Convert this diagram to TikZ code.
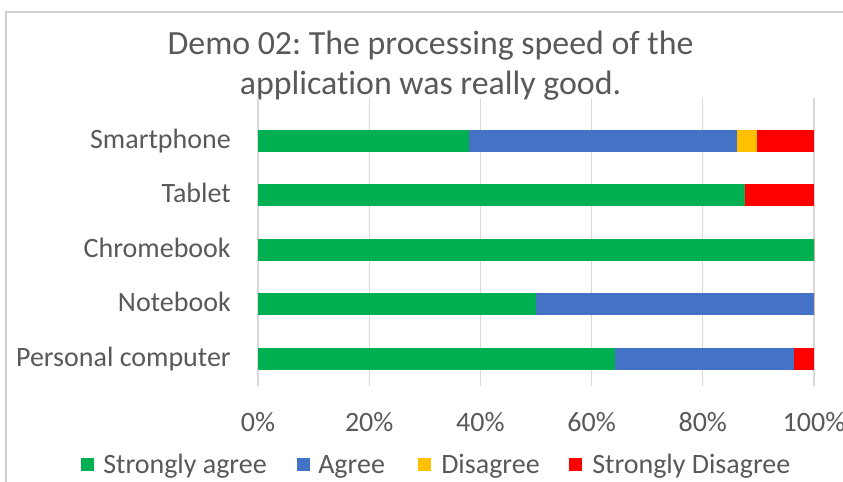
\documentclass[tikz,border=0pt]{standalone}
\usepackage{fontspec}
\setmainfont[Ligatures=NoCommon]{Carlito}
\frenchspacing
\definecolor{sagree}{HTML}{00B050}
\definecolor{agree}{HTML}{4472C4}
\definecolor{disagree}{HTML}{FFC000}
\definecolor{sdisagree}{HTML}{FF0000}
\definecolor{txtgray}{HTML}{595959}
\definecolor{gridgray}{HTML}{D9D9D9}
\definecolor{framegray}{HTML}{D0D0D0}

\tikzset{
  lab/.style={inner sep=0pt, text=txtgray, font=\fontsize{21}{25}\selectfont},
  titletext/.style={inner sep=0pt, text=txtgray, font=\fontsize{25.4}{30}\selectfont},
  gridline/.style={draw=gridgray, line width=1pt},
  legbox/.style={inner sep=0pt, minimum width=9.75pt, minimum height=9.75pt},
}

% one stacked bar: centre y, cumulative percentages of the four segments
\newcommand{\stackbar}[5]{%
  \fill[sagree]    (258,#1-11) rectangle ({258+5.56*#2},#1+11);
  \fill[agree]     ({258+5.56*#2},#1-11) rectangle ({258+5.56*#3},#1+11);
  \fill[disagree]  ({258+5.56*#3},#1-11) rectangle ({258+5.56*#4},#1+11);
  \fill[sdisagree] ({258+5.56*#4},#1-11) rectangle ({258+5.56*#5},#1+11);
}

\begin{document}
\begin{tikzpicture}[x=0.75pt,y=-0.75pt]
\useasboundingbox (0,0) rectangle (843,482);
\fill[white] (0,0) rectangle (843,482);

% chart frame (left and top edges)
\draw[framegray, line width=1.2pt] (6,482) -- (6,12) -- (843,12);

% title
\node[titletext, anchor=base] (title1) at (430.5,54) {Demo 02: The processing speed of the};
\node[titletext, anchor=base] (title2) at (430.5,94) {application was really good.};

% vertical gridlines and axis labels
\foreach \p/\nm in {0/t0,20/t20,40/t40,60/t60,80/t80,100/t100}{
  \draw[gridline] ({258+5.56*\p},98) -- ({258+5.56*\p},386);
  \node[lab, anchor=base] (\nm) at ({258+5.56*\p},431.7) {\p\%};
}

% bars
\stackbar{140.5}{37.93}{86.21}{89.66}{100}
\stackbar{195.1}{87.5}{87.5}{87.5}{100}
\stackbar{249.7}{100}{100}{100}{100}
\stackbar{304.3}{50}{100}{100}{100}
\stackbar{358.9}{64.29}{96.43}{96.43}{100}

% category labels
\node[lab, anchor=base east] (c1) at (231,148.0) {Smartphone};
\node[lab, anchor=base east] (c2) at (231,202.6) {Tablet};
\node[lab, anchor=base east] (c3) at (231,257.2) {Chromebook};
\node[lab, anchor=base east] (c4) at (231,311.8) {Notebook};
\node[lab, anchor=base east] (c5) at (231,366.4) {Personal computer};

% legend
\node[legbox, fill=sagree]    (k1) at (87.5,464) {};
\node[lab, anchor=base west]  (l1) at (103,473) {Strongly agree};
\node[legbox, fill=agree]     (k2) at (303.5,464) {};
\node[lab, anchor=base west]  (l2) at (318,473) {Agree};
\node[legbox, fill=disagree]  (k3) at (424.5,464) {};
\node[lab, anchor=base west]  (l3) at (441,473) {Disagree};
\node[legbox, fill=sdisagree] (k4) at (575.5,464) {};
\node[lab, anchor=base west]  (l4) at (592,473) {Strongly Disagree};
\end{tikzpicture}
\end{document}
